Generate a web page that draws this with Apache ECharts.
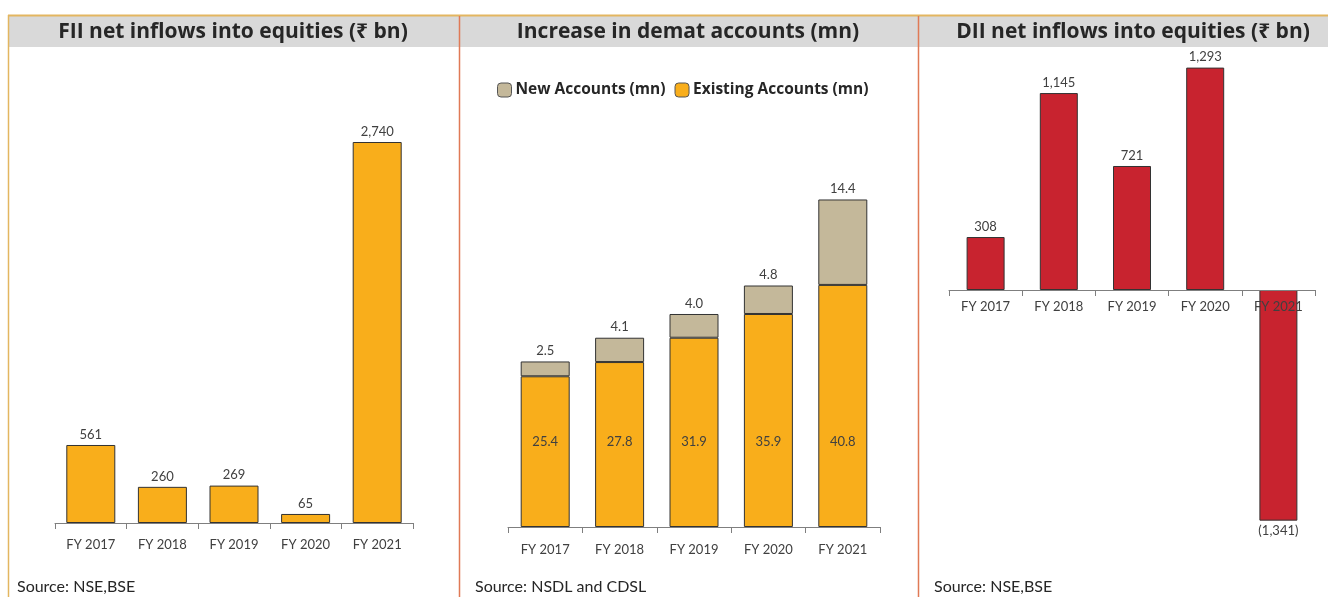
<!DOCTYPE html>
<html>
<head>
<meta charset="utf-8">
<title>Equity flows and demat accounts</title>
<script src="https://cdn.jsdelivr.net/npm/echarts@6/dist/echarts.min.js"></script>
<style>
  html, body { margin: 0; padding: 0; background: #fff; }
  #chart { width: 1328px; height: 597px; }
</style>
</head>
<body>
<div id="chart"></div>
<script>
// data
const years = ['FY 2017', 'FY 2018', 'FY 2019', 'FY 2020', 'FY 2021'];
const fiiInflows = [561, 260, 269, 65, 2740];
const existingAccounts = [25.4, 27.8, 31.9, 35.9, 40.8];
const newAccounts = [2.5, 4.1, 4.0, 4.8, 14.4];
const diiInflows = [308, 1145, 721, 1293, -1341];

const panelTitles = ['FII net inflows into equities (₹ bn)', 'Increase in demat accounts (mn)', 'DII net inflows into equities (₹ bn)'];
const sources = ['Source: NSE,BSE', 'Source: NSDL and CDSL', 'Source: NSE,BSE'];

const FONT = 'Lato, "Noto Sans", sans-serif';
const BOLD = '"Open Sans", "Noto Sans", sans-serif';
const txt = '#404040';
const orange = '#f9ae1b';
const beige = '#c4b89a';
const red = '#c8232f';

const fmtNum = v => v < 0 ? '(' + Math.abs(v).toLocaleString('en-US') + ')' : v.toLocaleString('en-US');

// common x axis look
function catAxis(grid, margin, offset) {
  return {
    type: 'category', gridIndex: grid, data: years, z: 3, offset: offset || 0,
    axisLine: { onZero: false, lineStyle: { color: '#7f7f7f', width: 1 } },
    axisTick: { show: true, length: 6, lineStyle: { color: '#7f7f7f' } },
    axisLabel: { color: txt, fontSize: 13, fontFamily: FONT, margin: margin }
  };
}
function valAxis(grid, min, max) {
  return { type: 'value', gridIndex: grid, min: min, max: max, show: false, splitLine: { show: false } };
}

const myChart = echarts.init(document.getElementById('chart'));

const option = {
  animation: false,
  textStyle: { fontFamily: FONT },
  grid: [
    { left: 55, width: 358, top: 142, height: 381 },
    { left: 508, width: 372, top: 171, height: 356 },
    { left: 949, width: 366, top: 32, height: 516 }
  ],
  // DII axis sits on the zero line: grid bottom 548, zero at 290
  xAxis: [catAxis(0, 15), catAxis(1, 16), catAxis(2, 10, -258)],
  yAxis: [valAxis(0, 0, 2740), valAxis(1, 0, 60), valAxis(2, -1500, 1500)],
  legend: {
    data: ['New Accounts (mn)', 'Existing Accounts (mn)'],
    left: 497, top: 82, padding: 0,
    itemWidth: 14, itemHeight: 14, itemGap: 9,
    itemStyle: { borderColor: '#555', borderWidth: 1 },
    textStyle: { fontSize: 15.5, fontWeight: 'bold', color: '#262626', fontFamily: BOLD, padding: [0, 0, 0, -1] }
  },
  series: [
    {
      name: 'FII', type: 'bar', xAxisIndex: 0, yAxisIndex: 0, data: fiiInflows, barWidth: 49,
      itemStyle: { color: orange, borderColor: '#333', borderWidth: 1 },
      label: { show: true, position: 'top', distance: 4, color: txt, fontSize: 13, formatter: p => fmtNum(p.value) }
    },
    {
      name: 'Existing Accounts (mn)', type: 'bar', stack: 'acc', xAxisIndex: 1, yAxisIndex: 1, data: existingAccounts, barWidth: 49,
      itemStyle: { color: orange, borderColor: '#333', borderWidth: 1 },
      label: { show: true, position: 'insideBottom', distance: 79, color: txt, fontSize: 13, formatter: p => p.value.toFixed(1) }
    },
    {
      name: 'New Accounts (mn)', type: 'bar', stack: 'acc', xAxisIndex: 1, yAxisIndex: 1, data: newAccounts, barWidth: 49,
      itemStyle: { color: beige, borderColor: '#333', borderWidth: 1 },
      label: { show: true, position: 'top', distance: 4, color: txt, fontSize: 13, formatter: p => p.value.toFixed(1) }
    },
    {
      name: 'DII', type: 'bar', xAxisIndex: 2, yAxisIndex: 2, barWidth: 38,
      data: diiInflows.map(v => ({
        value: v,
        label: { position: v < 0 ? 'bottom' : 'top' }
      })),
      itemStyle: { color: red, borderColor: '#333', borderWidth: 1 },
      label: { show: true, distance: 4, color: txt, fontSize: 13, formatter: p => fmtNum(p.value) }
    }
  ],
  graphic: [
    // header band and frame
    { type: 'rect', z: -10, shape: { x: 8, y: 15, width: 1320, height: 32 }, style: { fill: '#d9d9d9' } },
    { type: 'line', shape: { x1: 8, y1: 15.5, x2: 1328, y2: 15.5 }, style: { stroke: '#e3b660', lineWidth: 2 } },
    { type: 'line', shape: { x1: 8.5, y1: 15, x2: 8.5, y2: 597 }, style: { stroke: '#e3b660', lineWidth: 1.5 } },
    { type: 'line', shape: { x1: 459.5, y1: 16, x2: 459.5, y2: 597 }, style: { stroke: '#e07a56', lineWidth: 1.5 } },
    { type: 'line', shape: { x1: 918.5, y1: 16, x2: 918.5, y2: 597 }, style: { stroke: '#e07a56', lineWidth: 1.5 } },
    // panel titles
    ...panelTitles.map((t, i) => ({
      type: 'text', x: [233, 688, 1133][i], y: 32,
      style: { text: t, textAlign: 'center', textVerticalAlign: 'middle', font: 'bold 21px ' + BOLD, fill: '#262626' }
    })),
    // sources
    ...sources.map((s, i) => ({
      type: 'text', x: [17, 475, 934][i], y: 587,
      style: { text: s, textVerticalAlign: 'middle', font: '16px ' + FONT, fill: '#262626' }
    }))
  ]
};

myChart.setOption(option);
</script>
</body>
</html>
